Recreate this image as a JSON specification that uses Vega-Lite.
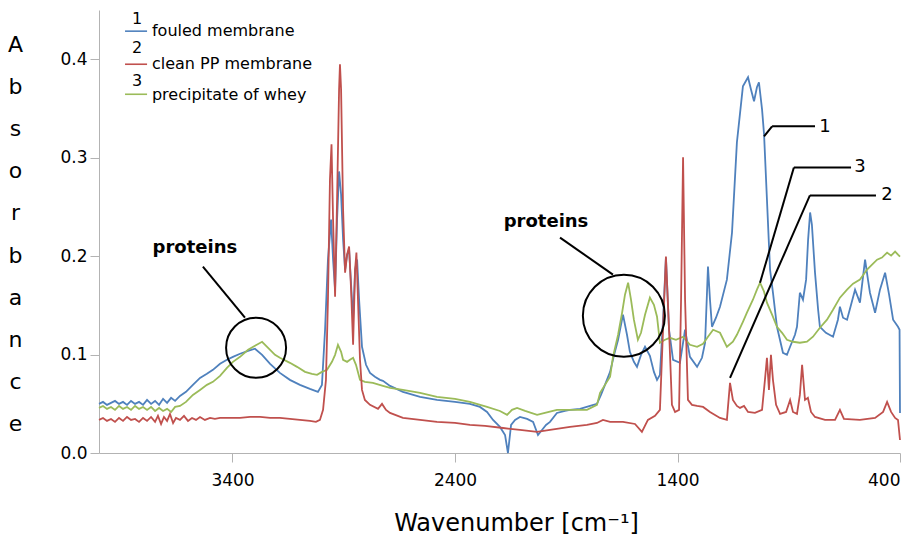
{
 "$schema": "https://vega.github.io/schema/vega-lite/v6.json",
 "width": 801,
 "height": 443,
 "autosize": "none",
 "padding": {"left": 99, "top": 10, "right": 16, "bottom": 87},
 "background": "white",
 "config": {"view": {"stroke": null}, "font": "DejaVu Sans"},
 "datasets": {
  "fouled": [
   {"wn":4000,"abs":0.0499},{"wn":3982,"abs":0.0519},{"wn":3964,"abs":0.0489},{"wn":3946,"abs":0.0509},{"wn":3928,"abs":0.0529},{"wn":3910,"abs":0.0499},{"wn":3892,"abs":0.0519},{"wn":3874,"abs":0.0489},{"wn":3856,"abs":0.0529},{"wn":3838,"abs":0.0499},{"wn":3820,"abs":0.0519},{"wn":3802,"abs":0.0489},{"wn":3784,"abs":0.0539},{"wn":3766,"abs":0.0499},{"wn":3748,"abs":0.0529},{"wn":3730,"abs":0.0489},{"wn":3712,"abs":0.055},{"wn":3694,"abs":0.0509},{"wn":3676,"abs":0.056},{"wn":3658,"abs":0.0529},{"wn":3636,"abs":0.058},{"wn":3609,"abs":0.0621},{"wn":3578,"abs":0.0692},{"wn":3546,"abs":0.0763},{"wn":3515,"abs":0.0804},{"wn":3488,"abs":0.0845},{"wn":3456,"abs":0.0906},{"wn":3425,"abs":0.0947},{"wn":3398,"abs":0.0977},{"wn":3366,"abs":0.1008},{"wn":3330,"abs":0.1038},{"wn":3299,"abs":0.1059},{"wn":3267,"abs":0.0997},{"wn":3231,"abs":0.0906},{"wn":3187,"abs":0.0814},{"wn":3142,"abs":0.0743},{"wn":3097,"abs":0.0692},{"wn":3052,"abs":0.0651},{"wn":3016,"abs":0.0621},{"wn":2998,"abs":0.0692},{"wn":2984,"abs":0.1252},{"wn":2971,"abs":0.1964},{"wn":2957,"abs":0.2372},{"wn":2948,"abs":0.1964},{"wn":2939,"abs":0.1659},{"wn":2930,"abs":0.2372},{"wn":2921,"abs":0.286},{"wn":2912,"abs":0.2626},{"wn":2903,"abs":0.2168},{"wn":2894,"abs":0.1863},{"wn":2885,"abs":0.2015},{"wn":2876,"abs":0.2066},{"wn":2867,"abs":0.171},{"wn":2858,"abs":0.1354},{"wn":2849,"abs":0.1863},{"wn":2840,"abs":0.1964},{"wn":2831,"abs":0.1557},{"wn":2818,"abs":0.1079},{"wn":2800,"abs":0.0896},{"wn":2782,"abs":0.0814},{"wn":2760,"abs":0.0774},{"wn":2737,"abs":0.0743},{"wn":2724,"abs":0.0733},{"wn":2692,"abs":0.0682},{"wn":2634,"abs":0.0621},{"wn":2557,"abs":0.057},{"wn":2481,"abs":0.0539},{"wn":2400,"abs":0.0519},{"wn":2333,"abs":0.0499},{"wn":2288,"abs":0.0468},{"wn":2256,"abs":0.0417},{"wn":2229,"abs":0.0336},{"wn":2198,"abs":0.0265},{"wn":2175,"abs":0.0183},{"wn":2162,"abs":0.0},{"wn":2148,"abs":0.0285},{"wn":2130,"abs":0.0336},{"wn":2108,"abs":0.0366},{"wn":2076,"abs":0.0346},{"wn":2049,"abs":0.0316},{"wn":2027,"abs":0.0183},{"wn":2009,"abs":0.0234},{"wn":1991,"abs":0.0285},{"wn":1973,"abs":0.0316},{"wn":1942,"abs":0.0407},{"wn":1906,"abs":0.0427},{"wn":1883,"abs":0.0438},{"wn":1838,"abs":0.0448},{"wn":1793,"abs":0.0478},{"wn":1762,"abs":0.0499},{"wn":1744,"abs":0.059},{"wn":1726,"abs":0.0692},{"wn":1703,"abs":0.0824},{"wn":1685,"abs":0.0997},{"wn":1667,"abs":0.115},{"wn":1645,"abs":0.1405},{"wn":1627,"abs":0.1201},{"wn":1614,"abs":0.1028},{"wn":1596,"abs":0.0926},{"wn":1582,"abs":0.0875},{"wn":1564,"abs":0.0997},{"wn":1546,"abs":0.1079},{"wn":1524,"abs":0.0987},{"wn":1506,"abs":0.0824},{"wn":1492,"abs":0.0743},{"wn":1479,"abs":0.0794},{"wn":1465,"abs":0.1354},{"wn":1452,"abs":0.1985},{"wn":1438,"abs":0.1252},{"wn":1420,"abs":0.0947},{"wn":1389,"abs":0.0916},{"wn":1366,"abs":0.1252},{"wn":1344,"abs":0.0977},{"wn":1312,"abs":0.0875},{"wn":1290,"abs":0.0967},{"wn":1276,"abs":0.112},{"wn":1263,"abs":0.1893},{"wn":1254,"abs":0.1557},{"wn":1245,"abs":0.1282},{"wn":1227,"abs":0.1374},{"wn":1209,"abs":0.1486},{"wn":1178,"abs":0.1761},{"wn":1155,"abs":0.2239},{"wn":1133,"abs":0.3155},{"wn":1106,"abs":0.3725},{"wn":1083,"abs":0.3817},{"wn":1070,"abs":0.3695},{"wn":1056,"abs":0.3573},{"wn":1043,"abs":0.3715},{"wn":1034,"abs":0.3766},{"wn":1020,"abs":0.3491},{"wn":1011,"abs":0.3237},{"wn":998,"abs":0.2575},{"wn":984,"abs":0.1863},{"wn":971,"abs":0.1628},{"wn":953,"abs":0.1282},{"wn":926,"abs":0.1018},{"wn":908,"abs":0.0997},{"wn":894,"abs":0.1079},{"wn":872,"abs":0.1201},{"wn":863,"abs":0.1282},{"wn":850,"abs":0.1628},{"wn":836,"abs":0.1557},{"wn":822,"abs":0.1761},{"wn":813,"abs":0.2168},{"wn":804,"abs":0.2443},{"wn":796,"abs":0.2321},{"wn":782,"abs":0.1832},{"wn":768,"abs":0.1455},{"wn":760,"abs":0.1282},{"wn":733,"abs":0.1221},{"wn":701,"abs":0.1181},{"wn":679,"abs":0.1354},{"wn":670,"abs":0.1486},{"wn":656,"abs":0.1374},{"wn":638,"abs":0.1354},{"wn":620,"abs":0.1506},{"wn":602,"abs":0.1659},{"wn":580,"abs":0.1527},{"wn":557,"abs":0.1964},{"wn":544,"abs":0.1761},{"wn":535,"abs":0.1628},{"wn":512,"abs":0.1425},{"wn":490,"abs":0.1659},{"wn":467,"abs":0.1832},{"wn":449,"abs":0.1608},{"wn":431,"abs":0.1354},{"wn":409,"abs":0.1282},{"wn":402,"abs":0.1252},{"wn":400,"abs":0.0407}
  ],
  "whey": [
   {"wn":4000,"abs":0.0458},{"wn":3982,"abs":0.0478},{"wn":3964,"abs":0.0448},{"wn":3946,"abs":0.0468},{"wn":3928,"abs":0.0438},{"wn":3910,"abs":0.0478},{"wn":3892,"abs":0.0448},{"wn":3874,"abs":0.0468},{"wn":3856,"abs":0.0438},{"wn":3838,"abs":0.0478},{"wn":3820,"abs":0.0448},{"wn":3802,"abs":0.0468},{"wn":3784,"abs":0.0438},{"wn":3766,"abs":0.0468},{"wn":3748,"abs":0.0427},{"wn":3730,"abs":0.0458},{"wn":3712,"abs":0.0427},{"wn":3694,"abs":0.0448},{"wn":3676,"abs":0.0417},{"wn":3658,"abs":0.0468},{"wn":3636,"abs":0.0478},{"wn":3609,"abs":0.0519},{"wn":3578,"abs":0.059},{"wn":3546,"abs":0.0641},{"wn":3515,"abs":0.0692},{"wn":3488,"abs":0.0723},{"wn":3456,"abs":0.0784},{"wn":3425,"abs":0.0865},{"wn":3398,"abs":0.0926},{"wn":3366,"abs":0.0977},{"wn":3330,"abs":0.1048},{"wn":3299,"abs":0.1089},{"wn":3267,"abs":0.113},{"wn":3240,"abs":0.1069},{"wn":3209,"abs":0.0997},{"wn":3187,"abs":0.0967},{"wn":3142,"abs":0.0916},{"wn":3110,"abs":0.0875},{"wn":3074,"abs":0.0824},{"wn":3043,"abs":0.0804},{"wn":3020,"abs":0.0794},{"wn":2998,"abs":0.0824},{"wn":2975,"abs":0.0845},{"wn":2953,"abs":0.0926},{"wn":2939,"abs":0.0997},{"wn":2926,"abs":0.1099},{"wn":2912,"abs":0.1028},{"wn":2903,"abs":0.0947},{"wn":2885,"abs":0.0926},{"wn":2872,"abs":0.0947},{"wn":2858,"abs":0.0967},{"wn":2845,"abs":0.0896},{"wn":2827,"abs":0.0743},{"wn":2805,"abs":0.0723},{"wn":2769,"abs":0.0712},{"wn":2724,"abs":0.0682},{"wn":2692,"abs":0.0662},{"wn":2634,"abs":0.0641},{"wn":2557,"abs":0.0611},{"wn":2481,"abs":0.057},{"wn":2400,"abs":0.055},{"wn":2333,"abs":0.0519},{"wn":2256,"abs":0.0468},{"wn":2198,"abs":0.0427},{"wn":2166,"abs":0.0387},{"wn":2144,"abs":0.0438},{"wn":2121,"abs":0.0458},{"wn":2085,"abs":0.0427},{"wn":2031,"abs":0.0387},{"wn":1996,"abs":0.0407},{"wn":1942,"abs":0.0438},{"wn":1883,"abs":0.0438},{"wn":1807,"abs":0.0438},{"wn":1762,"abs":0.0489},{"wn":1748,"abs":0.0611},{"wn":1726,"abs":0.0692},{"wn":1703,"abs":0.0774},{"wn":1690,"abs":0.0977},{"wn":1667,"abs":0.1201},{"wn":1649,"abs":0.1425},{"wn":1636,"abs":0.1608},{"wn":1622,"abs":0.173},{"wn":1609,"abs":0.1557},{"wn":1596,"abs":0.1354},{"wn":1578,"abs":0.115},{"wn":1564,"abs":0.1221},{"wn":1546,"abs":0.1405},{"wn":1524,"abs":0.1578},{"wn":1506,"abs":0.1506},{"wn":1492,"abs":0.1384},{"wn":1479,"abs":0.112},{"wn":1456,"abs":0.115},{"wn":1434,"abs":0.117},{"wn":1407,"abs":0.115},{"wn":1375,"abs":0.1181},{"wn":1344,"abs":0.1099},{"wn":1312,"abs":0.1079},{"wn":1285,"abs":0.1109},{"wn":1263,"abs":0.1181},{"wn":1240,"abs":0.1252},{"wn":1209,"abs":0.1221},{"wn":1178,"abs":0.1079},{"wn":1151,"abs":0.113},{"wn":1133,"abs":0.1201},{"wn":1106,"abs":0.1333},{"wn":1088,"abs":0.1425},{"wn":1061,"abs":0.1557},{"wn":1043,"abs":0.1659},{"wn":1029,"abs":0.173},{"wn":1011,"abs":0.1639},{"wn":998,"abs":0.1527},{"wn":975,"abs":0.1405},{"wn":953,"abs":0.1282},{"wn":930,"abs":0.1221},{"wn":908,"abs":0.115},{"wn":881,"abs":0.113},{"wn":850,"abs":0.112},{"wn":818,"abs":0.113},{"wn":791,"abs":0.1181},{"wn":760,"abs":0.1272},{"wn":728,"abs":0.1354},{"wn":701,"abs":0.1455},{"wn":670,"abs":0.1578},{"wn":638,"abs":0.1659},{"wn":611,"abs":0.172},{"wn":580,"abs":0.1761},{"wn":548,"abs":0.1863},{"wn":521,"abs":0.1924},{"wn":503,"abs":0.1964},{"wn":481,"abs":0.1985},{"wn":458,"abs":0.2036},{"wn":440,"abs":0.2005},{"wn":422,"abs":0.2046},{"wn":409,"abs":0.2015},{"wn":400,"abs":0.1995}
  ],
  "clean": [
   {"wn":4000,"abs":0.0336},{"wn":3982,"abs":0.0356},{"wn":3964,"abs":0.0326},{"wn":3946,"abs":0.0346},{"wn":3928,"abs":0.0316},{"wn":3910,"abs":0.0356},{"wn":3892,"abs":0.0326},{"wn":3874,"abs":0.0366},{"wn":3856,"abs":0.0336},{"wn":3838,"abs":0.0346},{"wn":3820,"abs":0.0316},{"wn":3802,"abs":0.0356},{"wn":3784,"abs":0.0326},{"wn":3766,"abs":0.0366},{"wn":3748,"abs":0.0316},{"wn":3735,"abs":0.0377},{"wn":3721,"abs":0.0295},{"wn":3708,"abs":0.0366},{"wn":3694,"abs":0.0326},{"wn":3681,"abs":0.0397},{"wn":3667,"abs":0.0305},{"wn":3654,"abs":0.0356},{"wn":3636,"abs":0.0336},{"wn":3618,"abs":0.0377},{"wn":3600,"abs":0.0326},{"wn":3582,"abs":0.0356},{"wn":3564,"abs":0.0336},{"wn":3546,"abs":0.0366},{"wn":3524,"abs":0.0336},{"wn":3501,"abs":0.0356},{"wn":3479,"abs":0.0346},{"wn":3456,"abs":0.0356},{"wn":3411,"abs":0.0356},{"wn":3366,"abs":0.0356},{"wn":3321,"abs":0.0366},{"wn":3276,"abs":0.0366},{"wn":3231,"abs":0.0356},{"wn":3187,"abs":0.0356},{"wn":3142,"abs":0.0346},{"wn":3097,"abs":0.0336},{"wn":3052,"abs":0.0326},{"wn":3025,"abs":0.0316},{"wn":3007,"abs":0.0336},{"wn":2993,"abs":0.0438},{"wn":2980,"abs":0.0743},{"wn":2971,"abs":0.1557},{"wn":2962,"abs":0.2779},{"wn":2955,"abs":0.3135},{"wn":2948,"abs":0.2372},{"wn":2939,"abs":0.1588},{"wn":2930,"abs":0.2575},{"wn":2921,"abs":0.3695},{"wn":2917,"abs":0.3949},{"wn":2912,"abs":0.3695},{"wn":2903,"abs":0.2473},{"wn":2894,"abs":0.1832},{"wn":2885,"abs":0.2015},{"wn":2876,"abs":0.2097},{"wn":2867,"abs":0.1659},{"wn":2858,"abs":0.1099},{"wn":2849,"abs":0.1863},{"wn":2843,"abs":0.2036},{"wn":2836,"abs":0.1557},{"wn":2827,"abs":0.0947},{"wn":2818,"abs":0.0641},{"wn":2805,"abs":0.0539},{"wn":2782,"abs":0.0489},{"wn":2746,"abs":0.0448},{"wn":2728,"abs":0.0499},{"wn":2710,"abs":0.0438},{"wn":2692,"abs":0.0407},{"wn":2634,"abs":0.0356},{"wn":2557,"abs":0.0336},{"wn":2481,"abs":0.0316},{"wn":2400,"abs":0.0305},{"wn":2333,"abs":0.0285},{"wn":2265,"abs":0.0275},{"wn":2184,"abs":0.0254},{"wn":2108,"abs":0.0234},{"wn":2031,"abs":0.0214},{"wn":1973,"abs":0.0234},{"wn":1883,"abs":0.0265},{"wn":1807,"abs":0.0285},{"wn":1762,"abs":0.0305},{"wn":1735,"abs":0.0336},{"wn":1703,"abs":0.0316},{"wn":1645,"abs":0.0316},{"wn":1591,"abs":0.0295},{"wn":1560,"abs":0.0214},{"wn":1533,"abs":0.0336},{"wn":1501,"abs":0.0377},{"wn":1479,"abs":0.0438},{"wn":1465,"abs":0.1252},{"wn":1452,"abs":0.1995},{"wn":1438,"abs":0.1252},{"wn":1425,"abs":0.0489},{"wn":1411,"abs":0.0417},{"wn":1393,"abs":0.0438},{"wn":1384,"abs":0.1557},{"wn":1375,"abs":0.3003},{"wn":1366,"abs":0.1557},{"wn":1353,"abs":0.0539},{"wn":1335,"abs":0.0489},{"wn":1312,"abs":0.0478},{"wn":1285,"abs":0.0468},{"wn":1254,"abs":0.0417},{"wn":1209,"abs":0.0356},{"wn":1178,"abs":0.0336},{"wn":1164,"abs":0.0712},{"wn":1151,"abs":0.0539},{"wn":1133,"abs":0.0478},{"wn":1119,"abs":0.0458},{"wn":1101,"abs":0.0478},{"wn":1083,"abs":0.0417},{"wn":1052,"abs":0.0407},{"wn":1020,"abs":0.0438},{"wn":1007,"abs":0.0743},{"wn":998,"abs":0.0967},{"wn":989,"abs":0.0641},{"wn":980,"abs":0.0997},{"wn":971,"abs":0.0743},{"wn":957,"abs":0.0489},{"wn":939,"abs":0.0397},{"wn":912,"abs":0.0417},{"wn":894,"abs":0.0539},{"wn":881,"abs":0.0417},{"wn":863,"abs":0.0397},{"wn":850,"abs":0.059},{"wn":840,"abs":0.0896},{"wn":827,"abs":0.0539},{"wn":814,"abs":0.056},{"wn":800,"abs":0.0417},{"wn":782,"abs":0.0366},{"wn":737,"abs":0.0336},{"wn":692,"abs":0.0336},{"wn":670,"abs":0.0438},{"wn":652,"abs":0.0346},{"wn":580,"abs":0.0336},{"wn":512,"abs":0.0356},{"wn":476,"abs":0.0417},{"wn":458,"abs":0.0519},{"wn":440,"abs":0.0417},{"wn":422,"abs":0.0356},{"wn":409,"abs":0.0336},{"wn":400,"abs":0.0132}
  ],
  "segments": [
   {"wn":3533,"abs":0.1893,"wn2":3344,"abs2":0.1374},
   {"wn":1928,"abs":0.2188,"wn2":1690,"abs2":0.1812},
   {"wn":1011,"abs":0.3216,"wn2":975,"abs2":0.3318},
   {"wn":975,"abs":0.3318,"wn2":782,"abs2":0.3318},
   {"wn":1029,"abs":0.173,"wn2":877,"abs2":0.2901},
   {"wn":877,"abs":0.2901,"wn2":620,"abs2":0.2901},
   {"wn":1164,"abs":0.0763,"wn2":805,"abs2":0.2616},
   {"wn":805,"abs":0.2616,"wn2":508,"abs2":0.2616}
  ],
  "swatches": [
   {"series":"1","wn":3883,"abs":0.4285,"wn2":3784,"abs2":0.4285},
   {"series":"2","wn":3883,"abs":0.3949,"wn2":3784,"abs2":0.3949},
   {"series":"3","wn":3883,"abs":0.3644,"wn2":3784,"abs2":0.3644}
  ],
  "legendNum": [
   {"wn":3829,"abs":0.4407,"label":"1"},
   {"wn":3829,"abs":0.4112,"label":"2"},
   {"wn":3829,"abs":0.3776,"label":"3"}
  ],
  "legendText": [
   {"wn":3762,"abs":0.4285,"label":"fouled membrane"},
   {"wn":3762,"abs":0.3949,"label":"clean PP membrane"},
   {"wn":3762,"abs":0.3634,"label":"precipitate of whey"}
  ],
  "calloutNum": [
   {"wn":737,"abs":0.3308,"label":"1"},
   {"wn":580,"abs":0.2901,"label":"3"},
   {"wn":459,"abs":0.2616,"label":"2"}
  ],
  "proteins": [
   {"wn":3569,"abs":0.2087,"label":"proteins"},
   {"wn":1991,"abs":0.235,"label":"proteins"}
  ],
  "circleSmall": [{"wn":3294,"abs":0.1069}],
  "circleLarge": [{"wn":1641,"abs":0.1394}]
 },
 "encoding": {
  "x": {
   "field": "wn", "type": "quantitative",
   "scale": {"domain": [400, 4000], "reverse": true, "nice": false, "zero": false},
   "axis": {
    "values": [3400, 2400, 1400, 400], "format": "d", "grid": false,
    "domainColor": "#b3b3b3", "tickColor": "#b3b3b3", "tickSize": 9,
    "labelFontSize": 17, "labelColor": "#000000", "labelPadding": 10,
    "title": "Wavenumber [cm⁻¹]", "titleFontSize": 24, "titleFontWeight": "normal",
    "titleColor": "#000000", "titleX": 417, "titleY": 70, "titleBaseline": "middle", "titleAlign": "center"
   }
  },
  "y": {
   "field": "abs", "type": "quantitative",
   "scale": {"domain": [0, 0.45], "nice": false, "zero": true},
   "axis": {
    "values": [0, 0.1, 0.2, 0.3, 0.4], "format": ".1f", "grid": false,
    "domainColor": "#b3b3b3", "tickColor": "#b3b3b3", "tickSize": 9,
    "labelFontSize": 17, "labelColor": "#000000", "labelPadding": 3,
    "title": ["A", "b", "s", "o", "r", "b", "a", "n", "c", "e"],
    "titleAngle": 0, "titleFontSize": 22, "titleFontWeight": "normal", "titleColor": "#000000",
    "titleLineHeight": 42.2, "titleX": -84, "titleY": 24, "titleBaseline": "top", "titleAlign": "center"
   }
  }
 },
 "layer": [
  {"data": {"name": "fouled"}, "mark": {"type": "line", "color": "#4F81BD", "strokeWidth": 1.8}},
  {"data": {"name": "whey"}, "mark": {"type": "line", "color": "#9BBB59", "strokeWidth": 1.8}},
  {"data": {"name": "clean"}, "mark": {"type": "line", "color": "#C0504D", "strokeWidth": 1.8}},
  {"data": {"name": "circleSmall"}, "mark": {"type": "point", "shape": "circle", "filled": false, "size": 3600, "stroke": "#000000", "strokeWidth": 2, "opacity": 1}},
  {"data": {"name": "circleLarge"}, "mark": {"type": "point", "shape": "circle", "filled": false, "size": 6724, "stroke": "#000000", "strokeWidth": 2, "opacity": 1}},
  {"data": {"name": "segments"}, "mark": {"type": "rule", "color": "#000000", "strokeWidth": 2},
   "encoding": {"x2": {"field": "wn2"}, "y2": {"field": "abs2"}}},
  {"data": {"name": "swatches"}, "mark": {"type": "rule", "strokeWidth": 1.6},
   "encoding": {"x2": {"field": "wn2"}, "y2": {"field": "abs2"},
    "color": {"field": "series", "type": "nominal", "scale": {"domain": ["1", "2", "3"], "range": ["#4F81BD", "#C0504D", "#9BBB59"]}, "legend": null}}},
  {"data": {"name": "legendNum"}, "mark": {"type": "text", "fontSize": 16, "align": "center", "baseline": "middle", "color": "#000000"},
   "encoding": {"text": {"field": "label"}}},
  {"data": {"name": "legendText"}, "mark": {"type": "text", "fontSize": 16, "align": "left", "baseline": "middle", "color": "#000000"},
   "encoding": {"text": {"field": "label"}}},
  {"data": {"name": "calloutNum"}, "mark": {"type": "text", "fontSize": 18, "align": "center", "baseline": "middle", "color": "#000000"},
   "encoding": {"text": {"field": "label"}}},
  {"data": {"name": "proteins"}, "mark": {"type": "text", "fontSize": 18, "fontWeight": "bold", "align": "center", "baseline": "middle", "color": "#000000"},
   "encoding": {"text": {"field": "label"}}}
 ]
}
